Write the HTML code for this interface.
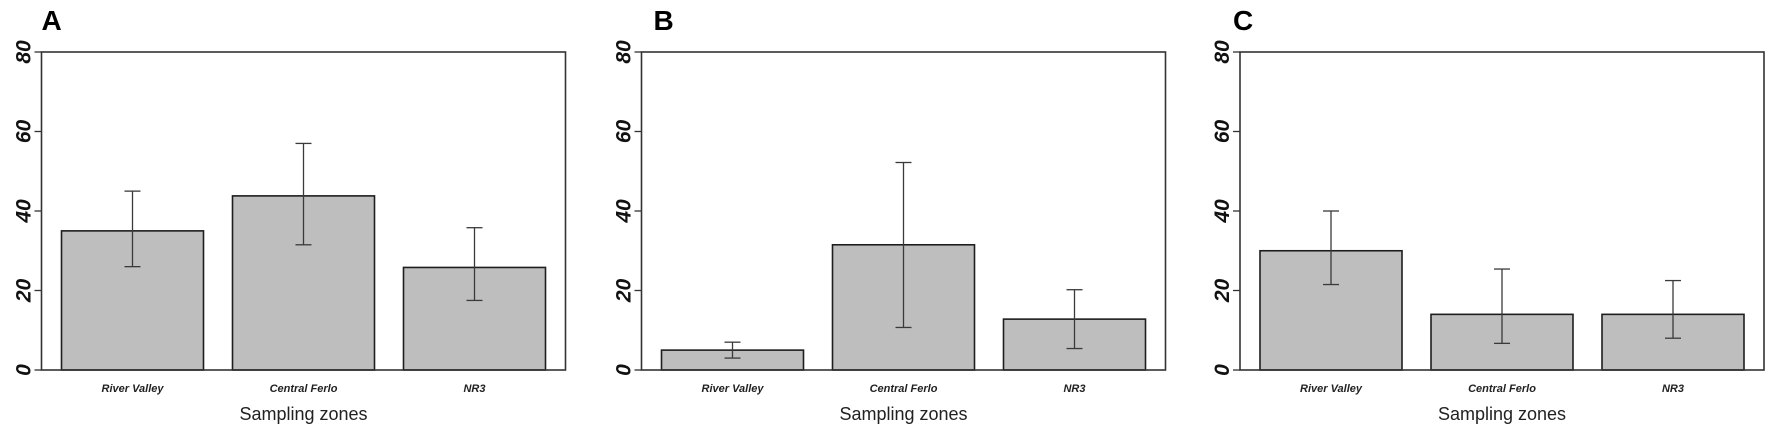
<!DOCTYPE html>
<html><head><meta charset="utf-8"><style>
html,body{margin:0;padding:0;background:#fff;}
svg{display:block;font-family:"Liberation Sans",sans-serif;}
</style></head><body>
<svg id="chart" width="1772" height="435" viewBox="0 0 1772 435" xmlns="http://www.w3.org/2000/svg"></svg>
<script>
const categories = ["River Valley", "Central Ferlo", "NR3"];
const panelLetters = ["A", "B", "C"];
const meansA = [35, 43.8, 25.8];
const lowA = [26, 31.5, 17.5];
const highA = [45, 57, 35.8];
const meansB = [5, 31.5, 12.8];
const lowB = [3, 10.7, 5.4];
const highB = [7, 52.2, 20.2];
const meansC = [30, 14, 14];
const lowC = [21.5, 6.7, 8];
const highC = [40, 25.4, 22.5];
const yTicks = [0, 20, 40, 60, 80];
const xTitle = "Sampling zones";

const NS = "http://www.w3.org/2000/svg";
const svg = document.getElementById("chart");
function mk(tag, attrs, parent) {
  const e = document.createElementNS(NS, tag);
  for (const k in attrs) e.setAttribute(k, attrs[k]);
  (parent || svg).appendChild(e);
  return e;
}
const panelLefts = [41.5, 641.5, 1240];
const boxW = 524, yTop = 52, yBot = 370, yMax = 80;
function yScale(v) { return yBot - v / yMax * (yBot - yTop); }
const series = [[meansA, lowA, highA], [meansB, lowB, highB], [meansC, lowC, highC]];

series.forEach((s, p) => {
  const L = panelLefts[p];
  const g = mk("g", {});
  
  
  function xBand(i) { return L + 20 + i * 171; }
  const bw = 142;
  // bars
  s[0].forEach((v, i) => {
    const r = mk("rect", {x: xBand(i), y: yScale(v), width: bw, height: yScale(0) - yScale(v), fill: "#bebebe", stroke: "#1e1e1e", "stroke-width": 1.6}, g);
    
    
  });
  // error bars
  s[0].forEach((v, i) => {
    const cx = xBand(i) + bw / 2;
    const eg = mk("g", {stroke: "#3a3a3a", "stroke-width": 1.3}, g);
    
    
    mk("line", {x1: cx, x2: cx, y1: yScale(s[1][i]), y2: yScale(s[2][i])}, eg);
    mk("line", {x1: cx - 8, x2: cx + 8, y1: yScale(s[1][i]), y2: yScale(s[1][i])}, eg);
    mk("line", {x1: cx - 8, x2: cx + 8, y1: yScale(s[2][i]), y2: yScale(s[2][i])}, eg);
  });
  // box
  const box = mk("rect", {x: L, y: yTop, width: boxW, height: yBot - yTop, fill: "none", stroke: "#333", "stroke-width": 1.6}, g);
  
  
  // y ticks
  yTicks.forEach(t => {
    const y = yScale(t);
    mk("line", {x1: L - 7, x2: L, y1: y, y2: y, stroke: "#333", "stroke-width": 1.3}, g);
    const tx = mk("text", {x: 0, y: 0, transform: "translate(" + (L - 11) + "," + y + ") rotate(-90)", "text-anchor": "middle", "font-size": 21, "font-weight": "bold", "font-style": "italic", fill: "#111"}, g);
    tx.textContent = t;
    
    
  });
  // x labels
  categories.forEach((c, i) => {
    const tx = mk("text", {x: xBand(i) + bw / 2, y: 392, "text-anchor": "middle", "font-size": 11, "font-weight": "bold", "font-style": "italic", fill: "#222"}, g);
    tx.textContent = c;
    
    
  });
  const xt = mk("text", {x: L + boxW / 2, y: 420, "text-anchor": "middle", "font-size": 18, fill: "#222"}, g);
  xt.textContent = xTitle;
  
  
  const lt = mk("text", {x: L + (p === 0 ? 0 : (p === 1 ? 12 : -7)), y: 30, "font-size": 28, "font-weight": "bold", fill: "#000"}, g);
  lt.textContent = panelLetters[p];
  
  
});
</script>
</body></html>
